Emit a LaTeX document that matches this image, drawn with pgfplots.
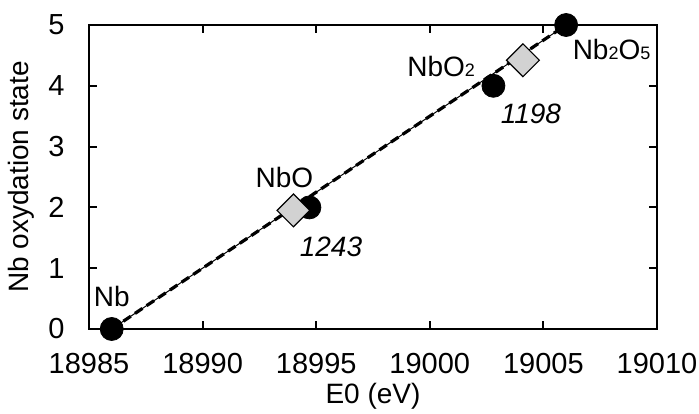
\documentclass[border=0pt]{standalone}
\usepackage{fontspec}
\setmainfont{Liberation Sans}
\usepackage{pgfplots}
\pgfplotsset{compat=1.18}
\definecolor{dgray}{RGB}{210,210,210}
\newcommand{\sub}[1]{{\fontsize{9}{9}\selectfont #1}}
\begin{document}
\fontsize{14}{17}\selectfont
\begin{tikzpicture}
\begin{axis}[
  scale only axis,
  width=284pt, height=152pt,
  xmin=18985, xmax=19010, ymin=0, ymax=5,
  xtick={18985,18990,18995,19000,19005,19010},
  ytick={0,1,2,3,4,5},
  scaled x ticks=false,
  scaled y ticks=false,
  /pgf/number format/assume math mode=true,
  /pgf/number format/1000 sep={},
  xticklabel style={/pgf/number format/fixed, /pgf/number format/precision=0},
  tick align=inside,
  major tick length=4pt,
  tick style={black, line width=1pt},
  axis line style={black, line width=1pt},
  tick label style={font=\fontsize{14.5}{17}\selectfont},
  xticklabel style={anchor=north, inner sep=0pt, yshift=-12pt},
  yticklabel style={anchor=east, inner sep=0pt, xshift=-12pt},
  xlabel={E0 (eV)},
  ylabel={Nb oxydation state},
  xlabel style={at={(axis description cs:0.5,0)}, anchor=base, yshift=-37.5pt, inner sep=0pt, font=\fontsize{14}{17}\selectfont},
  ylabel style={at={(axis description cs:-0.10563,0.5)}, anchor=base, rotate=0, inner sep=0pt, font=\fontsize{14}{17}\selectfont},
  clip=false,
]
\addplot[only marks, mark=*, mark size=5.75pt, mark options={fill=black, draw=black}]
  coordinates {(18986.0,0) (18994.7,2) (19002.8,4) (19006.0,5)};
\addplot[only marks, mark=square*, mark size=5.8pt, mark options={fill=dgray, draw=black, line width=0.6pt, rotate=45}]
  coordinates {(18994.0,1.95) (19004.1,4.42)};
\addplot[black, line width=0.5pt] coordinates {(18986.0,0) (19006.0,5)};
\addplot[black, line width=1.6pt, dash pattern=on 4.5pt off 2.5pt] coordinates {(18986.0,0) (19006.0,5)};
\node[inner sep=0pt] at (axis cs:18986.0,0.54) {Nb};
\node[inner sep=0pt] at (axis cs:18993.6,2.5) {NbO};
\node[inner sep=0pt, font=\itshape] at (axis cs:18995.65,1.35) {1243};
\node[inner sep=0pt] at (axis cs:19000.5,4.31) {NbO\sub{2}};
\node[inner sep=0pt, font=\itshape] at (axis cs:19004.45,3.54) {1198};
\node[inner sep=0pt] at (axis cs:19008.0,4.6) {Nb\sub{2}O\sub{5}};
\coordinate (bl) at (rel axis cs:0,0);
\coordinate (tr) at (rel axis cs:1,1);
\end{axis}
\pgfresetboundingbox
\path ([shift={(-44.5pt,-42.5pt)}]bl) rectangle ([shift={(21pt,12.5pt)}]tr);
\end{tikzpicture}
\end{document}
